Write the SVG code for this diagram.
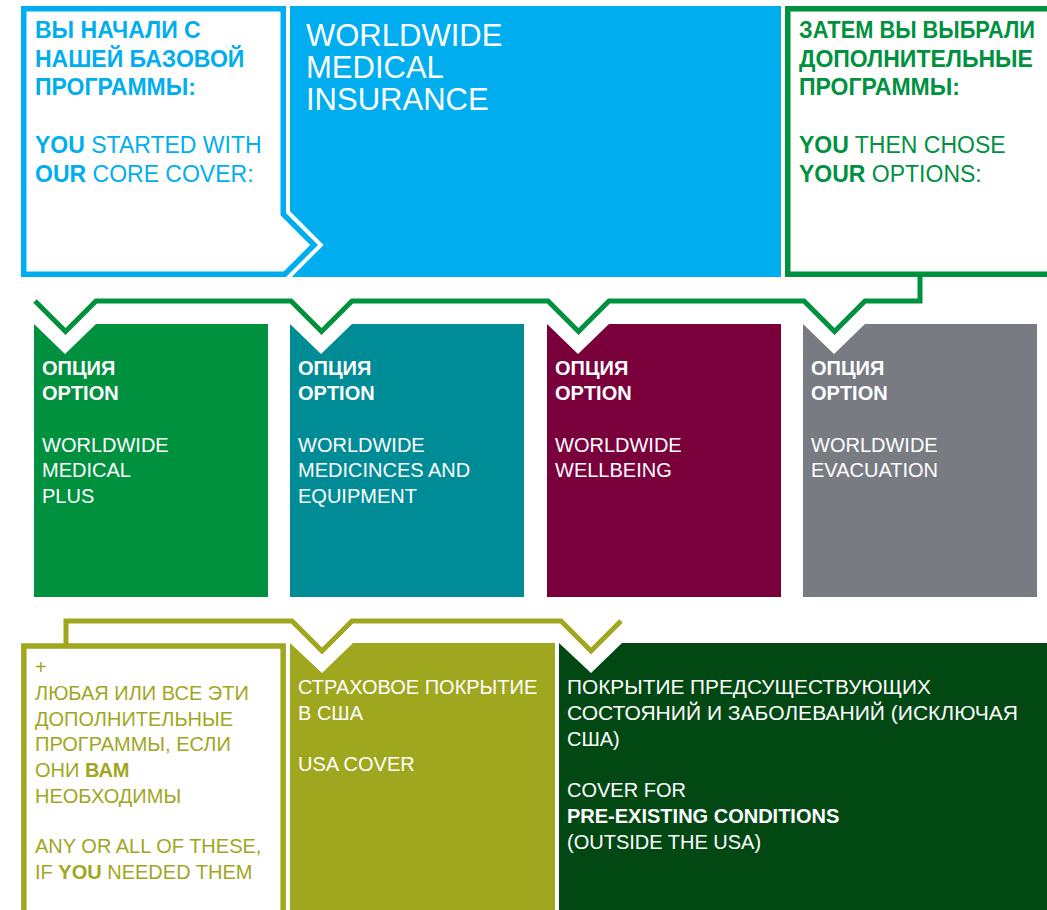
<svg xmlns="http://www.w3.org/2000/svg" width="1047" height="910" viewBox="0 0 1047 910">
<style>
  text { font-family: "Liberation Sans", Arial, sans-serif; }
  .b { font-weight: bold; }
  .t31 { font-size: 31px; }
  .t23 { font-size: 23px; }
  .t20 { font-size: 20px; }
  .w { fill: #ffffff; }
  .blue { fill: #00AEEF; }
  .grn { fill: #00913F; }
  .olv { fill: #9FA71E; }
  .conn { fill: none; stroke-width: 5; stroke-linejoin: miter; stroke-linecap: butt; }
</style>
<defs>
  <path id="coreShape" d="M23.75,8.75 H283.25 V214.1 L314.1,245 L284.85,274.25 H23.75 Z"/>
</defs>

<g id="wmi">
  <rect x="285" y="6" width="496" height="271" fill="#00AEEF"/>
  <text class="t31 w" x="306" y="46">WORLDWIDE</text>
  <text class="t31 w" x="306" y="78">MEDICAL</text>
  <text class="t31 w" x="306" y="110">INSURANCE</text>
</g>

<g id="core-cover">
  <use href="#coreShape" fill="none" stroke="#ffffff" stroke-width="13.5"/>
  <use href="#coreShape" fill="#ffffff" stroke="#00AEEF" stroke-width="5.5"/>
  <text class="t23 b blue" x="35" y="38">ВЫ НАЧАЛИ С</text>
  <text class="t23 b blue" x="35" y="66.5">НАШЕЙ БАЗОВОЙ</text>
  <text class="t23 b blue" x="35" y="95">ПРОГРАММЫ:</text>
  <text class="t23 blue" x="35" y="153"><tspan class="b">YOU</tspan> STARTED WITH</text>
  <text class="t23 blue" x="35" y="181.5"><tspan class="b">OUR</tspan> CORE COVER:</text>
</g>

<g id="options-intro">
  <rect x="787.75" y="8.75" width="300" height="265.5" fill="#ffffff" stroke="#00913F" stroke-width="5.5"/>
  <text class="t23 b grn" x="799" y="38" textLength="236" lengthAdjust="spacingAndGlyphs">ЗАТЕМ ВЫ ВЫБРАЛИ</text>
  <text class="t23 b grn" x="799" y="66.5">ДОПОЛНИТЕЛЬНЫЕ</text>
  <text class="t23 b grn" x="799" y="95">ПРОГРАММЫ:</text>
  <text class="t23 grn" x="799" y="153"><tspan class="b">YOU</tspan> THEN CHOSE</text>
  <text class="t23 grn" x="799" y="181.5"><tspan class="b">YOUR</tspan> OPTIONS:</text>
</g>

<g id="connectors">
  <path class="conn" stroke="#00913F" d="M35,301 L65.5,331.5 L96,301 H291 L321.5,331.5 L352,301 H548 L578.5,331.5 L609,301 H804 L834.5,331.5 L865,301 H920 V276"/>
  <path class="conn" stroke="#9FA71E" d="M66,646 V621 H292 L322,651 L352,621 H561 L591,651 L621,621"/>
</g>

<g id="option-medical-plus">
  <polygon points="34,324 65,354 96,324 268,324 268,597 34,597" fill="#00913F"/>
  <text class="t20 b w" x="42" y="374.5">ОПЦИЯ</text>
  <text class="t20 b w" x="42" y="400">OPTION</text>
  <text class="t20 w" x="42" y="451.5">WORLDWIDE</text>
  <text class="t20 w" x="42" y="477">MEDICAL</text>
  <text class="t20 w" x="42" y="502.5">PLUS</text>
</g>

<g id="option-medicines">
  <polygon points="290,324 321,354 352,324 524,324 524,597 290,597" fill="#008C96"/>
  <text class="t20 b w" x="298" y="374.5">ОПЦИЯ</text>
  <text class="t20 b w" x="298" y="400">OPTION</text>
  <text class="t20 w" x="298" y="451.5">WORLDWIDE</text>
  <text class="t20 w" x="298" y="477">MEDICINCES AND</text>
  <text class="t20 w" x="298" y="502.5">EQUIPMENT</text>
</g>

<g id="option-wellbeing">
  <polygon points="547,324 578,354 609,324 781,324 781,597 547,597" fill="#7A003C"/>
  <text class="t20 b w" x="555" y="374.5">ОПЦИЯ</text>
  <text class="t20 b w" x="555" y="400">OPTION</text>
  <text class="t20 w" x="555" y="451.5">WORLDWIDE</text>
  <text class="t20 w" x="555" y="477">WELLBEING</text>
</g>

<g id="option-evacuation">
  <polygon points="803,324 834,354 865,324 1037,324 1037,597 803,597" fill="#797B82"/>
  <text class="t20 b w" x="811" y="374.5">ОПЦИЯ</text>
  <text class="t20 b w" x="811" y="400">OPTION</text>
  <text class="t20 w" x="811" y="451.5">WORLDWIDE</text>
  <text class="t20 w" x="811" y="477">EVACUATION</text>
</g>

<g id="any-or-all">
  <rect x="23.85" y="646" width="259.3" height="300" fill="#ffffff" stroke="#9FA71E" stroke-width="5.5"/>
  <text class="t20 olv" x="35" y="674.3">+</text>
  <text class="t20 olv" x="35" y="700">ЛЮБАЯ ИЛИ ВСЕ ЭТИ</text>
  <text class="t20 olv" x="35" y="725.7">ДОПОЛНИТЕЛЬНЫЕ</text>
  <text class="t20 olv" x="35" y="751.4">ПРОГРАММЫ, ЕСЛИ</text>
  <text class="t20 olv" x="35" y="777">ОНИ <tspan class="b">ВАМ</tspan></text>
  <text class="t20 olv" x="35" y="802.7">НЕОБХОДИМЫ</text>
  <text class="t20 olv" x="35" y="853.4">ANY OR ALL OF THESE,</text>
  <text class="t20 olv" x="35" y="879">IF <tspan class="b">YOU</tspan> NEEDED THEM</text>
</g>

<g id="usa-cover">
  <polygon points="290,643 322,673 353,643 555,643 555,915 290,915" fill="#9FA71E"/>
  <text class="t20 w" x="298" y="693.5">СТРАХОВОЕ ПОКРЫТИЕ</text>
  <text class="t20 w" x="298" y="719.5">В США</text>
  <text class="t20 w" x="298" y="771">USA COVER</text>
</g>

<g id="pre-existing">
  <polygon points="559,643 591,673 622,643 1052,643 1052,915 559,915" fill="#024813"/>
  <text class="t20 w" x="567" y="693.5" textLength="364" lengthAdjust="spacingAndGlyphs">ПОКРЫТИЕ ПРЕДСУЩЕСТВУЮЩИХ</text>
  <text class="t20 w" x="567" y="719.5" textLength="451" lengthAdjust="spacingAndGlyphs">СОСТОЯНИЙ И ЗАБОЛЕВАНИЙ (ИСКЛЮЧАЯ</text>
  <text class="t20 w" x="567" y="745.5">США)</text>
  <text class="t20 w" x="567" y="797">COVER FOR</text>
  <text class="t20 b w" x="567" y="823">PRE-EXISTING CONDITIONS</text>
  <text class="t20 w" x="567" y="849">(OUTSIDE THE USA)</text>
</g>
</svg>
